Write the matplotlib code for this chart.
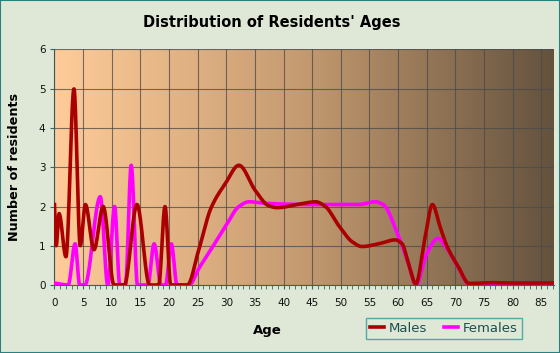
import numpy as np
import matplotlib.pyplot as plt
from matplotlib.colors import LinearSegmentedColormap
from matplotlib.patches import Rectangle

# Datos (edad, numero de residentes)
edades_h = [0, 0.3, 0.8, 2.0, 3.4, 4.5, 5.4, 6.9, 8.5, 10.4, 12.2, 14.4, 16.6, 18.2,
            19.3, 20.3, 23.2, 25.2, 27.3, 29.9, 32.2, 35.1, 37.4, 38.9, 42.7, 45.6,
            47.3, 49.7, 52.0, 53.7, 56.6, 59.5, 60.7, 61.8, 63.1, 64.7, 66.0, 67.3,
            68.5, 70.5, 72.4, 76.3, 80.0, 87.0]
hombres = [2.05, 1.0, 1.82, 0.72, 5.0, 1.0, 2.05, 0.9, 2.0, 0.0, 0.0, 2.05, 0.0, 0.0,
           2.0, 0.0, 0.0, 0.9, 1.95, 2.6, 3.05, 2.4, 2.02, 1.97, 2.06, 2.12,
           2.0, 1.5, 1.1, 0.98, 1.05, 1.15, 1.05, 0.55, 0.03, 1.2, 2.05, 1.5,
           1.0, 0.47, 0.04, 0.06, 0.05, 0.05]

edades_m = [0, 2.4, 3.6, 4.4, 5.3, 8.0, 9.3, 10.5, 11.4, 12.4, 13.4, 14.5, 16.3,
            17.4, 18.6, 19.4, 20.4, 21.4, 23.5, 25.2, 27.3, 29.9, 32.2, 34.0, 36.9,
            45.0, 53.1, 56.0, 57.4, 60.1, 61.8, 63.1, 65.0, 67.0, 68.2, 70.5, 72.4,
            87.0]
mujeres = [0.05, 0.0, 1.05, 0.0, 0.0, 2.25, 0.0, 2.0, 0.0, 0.0, 3.05, 0.0, 0.0,
           1.05, 0.0, 0.0, 1.05, 0.0, 0.0, 0.42, 0.9, 1.5, 2.0, 2.12, 2.08,
           2.05, 2.05, 2.12, 2.05, 1.23, 0.55, 0.0, 0.8, 1.19, 1.0, 0.45, 0.02,
           0.02]

x_ticks = list(range(0, 90, 5))
y_ticks = list(range(0, 7))


def suavizar(x, y, n=1500):
    # interpolacion cubica monotona (tipo PCHIP) solo para dibujar la curva
    x = np.asarray(x, float)
    y = np.asarray(y, float)
    h = np.diff(x)
    d = np.diff(y) / h
    m = np.zeros_like(y)
    for k in range(1, len(x) - 1):
        if d[k - 1] * d[k] > 0:
            w1 = 2 * h[k] + h[k - 1]
            w2 = h[k] + 2 * h[k - 1]
            m[k] = (w1 + w2) / (w1 / d[k - 1] + w2 / d[k])
    m[0] = d[0]
    m[-1] = d[-1]
    xs = np.linspace(x[0], x[-1], n)
    idx = np.clip(np.searchsorted(x, xs) - 1, 0, len(x) - 2)
    t = (xs - x[idx]) / h[idx]
    h00 = 2 * t**3 - 3 * t**2 + 1
    h10 = t**3 - 2 * t**2 + t
    h01 = -2 * t**3 + 3 * t**2
    h11 = t**3 - t**2
    ys = h00 * y[idx] + h10 * h[idx] * m[idx] + h01 * y[idx + 1] + h11 * h[idx] * m[idx + 1]
    return xs, ys


fondo = '#dfe8d6'
fig = plt.figure(figsize=(5.6, 3.53), dpi=100, facecolor=fondo)
ax = fig.add_axes([0.0973, 0.1926, 0.8917, 0.6672])

# Degradado del fondo del area de trazado
cmap = LinearSegmentedColormap.from_list(
    'fondo', [(0, '#ffcc99'), (0.5, '#c49a70'), (1, '#64523e')])
grad = np.linspace(0, 1, 256).reshape(1, -1)
ax.imshow(grad, cmap=cmap, aspect='auto', extent=[0, 87.2, 0, 6], zorder=0)

xh, yh = suavizar(edades_h, hombres)
xm, ym = suavizar(edades_m, mujeres)
ax.plot(xm, ym, color='#ff00ff', lw=2.6, label='Females', zorder=3)
ax.plot(xh, yh, color='#aa0000', lw=2.6, label='Males', zorder=4)

ax.set_xlim(0, 87.2)
ax.set_ylim(0, 6)
ax.set_xticks(x_ticks)
ax.set_xticks(range(0, 88), minor=True)
ax.set_yticks(y_ticks)
ax.grid(True, color='#4a4a4a', lw=0.8, alpha=0.75, zorder=1)
ax.set_axisbelow(False)
for s in ['top', 'right']:
    ax.spines[s].set_visible(False)
for s in ['left', 'bottom']:
    ax.spines[s].set_color('#2a6a6a')
ax.tick_params(axis='both', colors='#2a6a6a', labelcolor='#111111', labelsize=7.5,
               length=3, width=0.8)
ax.tick_params(axis='x', which='minor', length=3, width=0.6, colors='#2a6a6a')
ax.tick_params(axis='x', pad=6)

ax.set_xlabel('Age', fontsize=9.5, fontweight='bold')
ax.xaxis.set_label_coords(0.426, -0.166)
ax.set_ylabel('Number of residents', fontsize=9.2, fontweight='bold', labelpad=13)
fig.text(0.486, 0.935, "Distribution of Residents' Ages", ha='center', va='center',
         fontsize=10.5, fontweight='bold')

h, l = ax.get_legend_handles_labels()
leg = ax.legend(h[::-1], l[::-1], loc='center', bbox_to_anchor=(0.78, -0.183),
                ncol=2, frameon=True, fancybox=False, fontsize=9.5,
                handlelength=1.0, handletextpad=0.4, columnspacing=1.3, borderpad=0.3)
leg.get_frame().set_edgecolor('#339999')
leg.get_frame().set_facecolor(fondo)
for t in leg.get_texts():
    t.set_color('#1a4f4f')

# Borde de la figura
fig.patches.append(Rectangle((0, 0), 1, 1, transform=fig.transFigure, fill=False,
                             edgecolor='#2a8080', lw=1.5))

fig.savefig('out.png', dpi=100, facecolor=fondo)
